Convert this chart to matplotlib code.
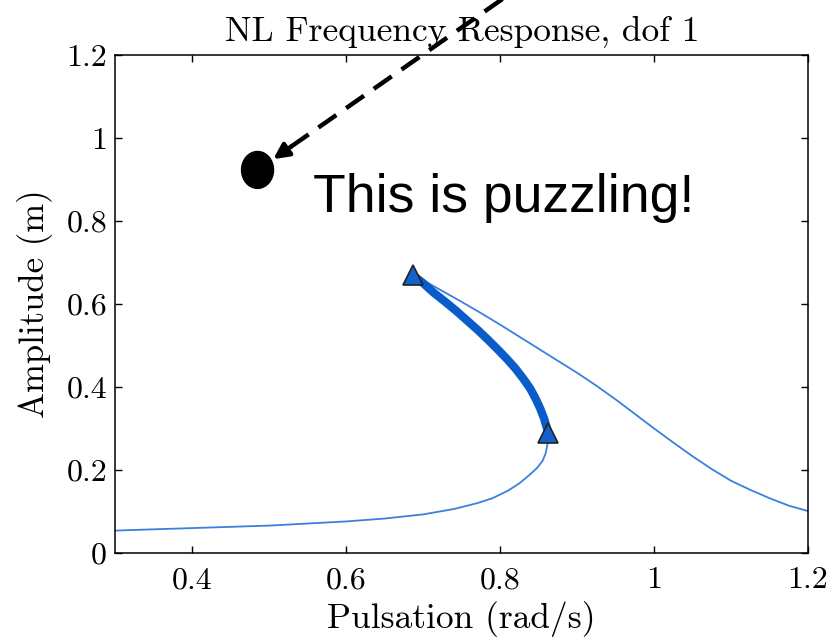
import matplotlib
matplotlib.use("Agg")
import matplotlib.pyplot as plt
from matplotlib.patches import Ellipse

plt.rcParams['font.family'] = 'cmr10'
plt.rcParams['axes.formatter.use_mathtext'] = True

# lower stable branch
low_x = [0.30, 0.35, 0.40, 0.45, 0.50, 0.55, 0.60, 0.65, 0.70, 0.74, 0.77,
         0.79, 0.81, 0.825, 0.838, 0.848, 0.855, 0.859, 0.861, 0.862, 0.8625]
low_y = [0.054, 0.057, 0.060, 0.063, 0.066, 0.071, 0.076, 0.083, 0.093, 0.106, 0.120,
         0.132, 0.150, 0.168, 0.188, 0.205, 0.222, 0.240, 0.258, 0.273, 0.288]

# unstable branch (thick)
uns_x = [0.686, 0.700, 0.713, 0.728, 0.743, 0.757, 0.771, 0.784, 0.797,
         0.809, 0.820, 0.830, 0.839, 0.846, 0.852, 0.857, 0.860, 0.8625]
uns_y = [0.670, 0.650, 0.628, 0.606, 0.583, 0.560, 0.537, 0.514, 0.490,
         0.467, 0.444, 0.420, 0.396, 0.372, 0.348, 0.324, 0.305, 0.288]

# upper stable branch
up_x = [0.686, 0.70, 0.725, 0.75, 0.775, 0.80, 0.825, 0.85, 0.875, 0.90, 0.925,
        0.95, 0.975, 1.00, 1.025, 1.05, 1.075, 1.10, 1.125, 1.15, 1.175, 1.20]
up_y = [0.670, 0.657, 0.631, 0.605, 0.578, 0.550, 0.521, 0.492, 0.463, 0.434, 0.403,
        0.370, 0.335, 0.300, 0.266, 0.233, 0.202, 0.174, 0.152, 0.132, 0.114, 0.101]

# turning points (fold bifurcations)
fold_x = [0.686, 0.8625]
fold_y = [0.670, 0.288]

xticks = [0.4, 0.6, 0.8, 1.0, 1.2]
xtick_labels = ['0.4', '0.6', '0.8', '1', '1.2']
yticks = [0, 0.2, 0.4, 0.6, 0.8, 1.0, 1.2]
ytick_labels = ['0', '0.2', '0.4', '0.6', '0.8', '1', '1.2']

fig = plt.figure(figsize=(8.29, 6.43), dpi=100)
ax = fig.add_axes([0.1393, 0.14, 0.9747 - 0.1393, 0.9145 - 0.14])

thin = '#3a80de'
thick = '#0a5ccb'
ax.plot(low_x, low_y, color=thin, lw=1.3)
ax.plot(up_x, up_y, color=thin, lw=1.3)
ax.plot(uns_x, uns_y, color=thick, lw=6, solid_capstyle='butt', solid_joinstyle='round')
ax.plot(fold_x, fold_y, '^', ms=14, mfc='#1262cc', mec='#222222', mew=1.2)

ax.set_xlim(0.3, 1.2)
ax.set_ylim(0, 1.2)
ax.set_xticks(xticks)
ax.set_xticklabels(xtick_labels)
ax.set_yticks(yticks)
ax.set_yticklabels(ytick_labels)
ax.tick_params(direction='in', top=True, right=True, length=5, width=1,
               labelsize=23)
ax.tick_params(axis='x', pad=10)
ax.tick_params(axis='y', pad=6)
for s in ax.spines.values():
    s.set_linewidth(1.1)

ax.set_xlabel('Pulsation (rad/s)', fontsize=25.5, labelpad=5)
ax.set_ylabel('Amplitude (m)', fontsize=25, labelpad=10)
ax.set_title('NL Frequency Response, dof 1', fontsize=25.5, pad=10)

# annotation: dot, dashed arrow, text
ax.add_patch(Ellipse((0.4846, 0.923), 0.0416, 0.089, color='k', zorder=6))
ax.plot([0.830, 0.525], [1.370, 0.975], color='k', lw=3.2,
        ls=(0, (4.9, 2.7)), clip_on=False, zorder=6)
ax.annotate('', xy=(0.505, 0.949), xytext=(0.528, 0.979),
            arrowprops=dict(arrowstyle='-|>,head_length=0.9,head_width=0.45',
                            color='k', lw=3.2, shrinkA=0, shrinkB=0),
            zorder=6)
ax.text(0.5573, 0.822, 'This is puzzling!', fontsize=38.5,
        family='Liberation Sans', ha='left', va='baseline')

fig.savefig('out.png', dpi=100)
